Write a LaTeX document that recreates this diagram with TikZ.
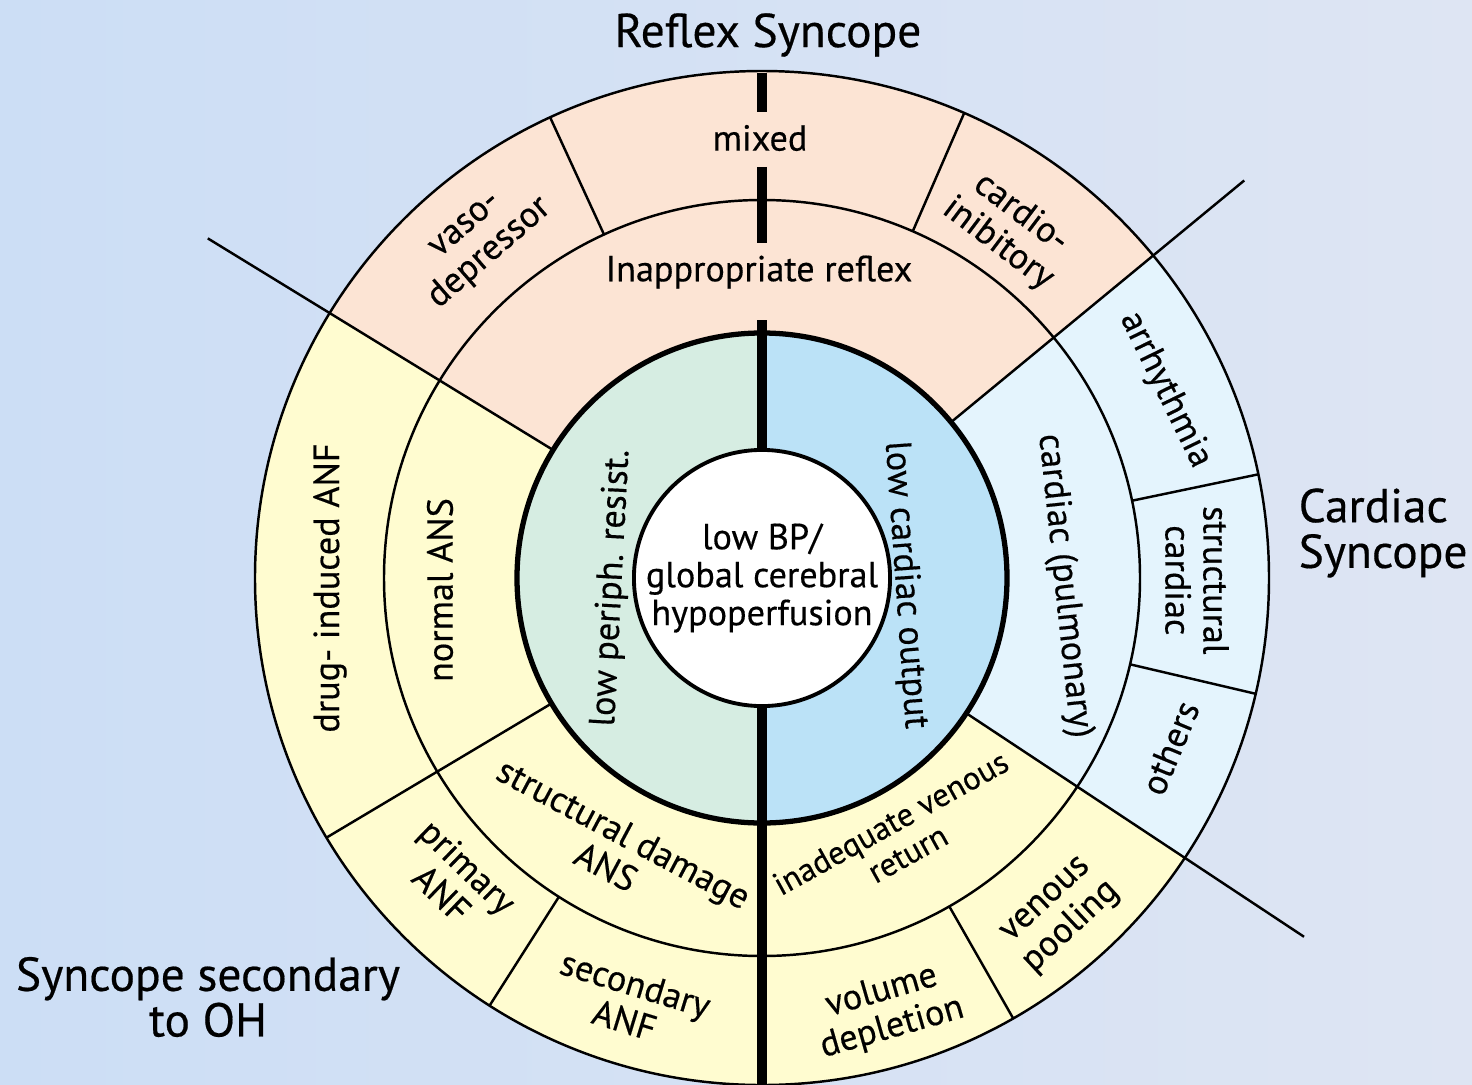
\documentclass[tikz,border=0pt]{standalone}
\usepackage{fontspec}
\setsansfont{PT Sans}[FakeBold=0.4]
\usepackage{tikz}
\usetikzlibrary{calc}

\definecolor{bgleft}{RGB}{204,222,245}
\definecolor{bgright}{RGB}{222,229,243}
\definecolor{reflexfill}{RGB}{252,228,212}
\definecolor{ohfill}{RGB}{255,252,208}
\definecolor{cardiacfill}{RGB}{228,244,253}
\definecolor{periphfill}{RGB}{214,237,226}
\definecolor{outputfill}{RGB}{187,226,247}

\begin{document}
\begin{tikzpicture}[
    x=0.1mm, y=0.1mm,
    font=\sffamily\fontsize{10.3}{10.8}\selectfont,
    ringline/.style={draw=black, line width=0.7pt},
    hubline/.style={draw=black, line width=1.5pt},
    axisline/.style={draw=black, line width=2.6pt},
    cell/.style={align=center, inner sep=0pt},
    region/.style={font=\sffamily\fontsize{13.5}{13}\selectfont, align=center, inner sep=0pt}
]

% Page and background.
\useasboundingbox (-762,-506) rectangle (710,578);
\clip (-762,-506) rectangle (710,578);
\shade[left color=bgleft, right color=bgright] (-762,-506) rectangle (710,578);

% Outer sectors, one colour per syncope group.
\fill[reflexfill] (0,0) -- (39.5:507) arc[start angle=39.5, end angle=148.5, radius=507] -- cycle;
\fill[ohfill] (0,0) -- (148.5:507) arc[start angle=148.5, end angle=326.5, radius=507] -- cycle;
\fill[cardiacfill] (0,0) -- (-33.5:507) arc[start angle=-33.5, end angle=39.5, radius=507] -- cycle;

% Inner ring halves.
\fill[periphfill] (0,245) arc[start angle=90, end angle=270, radius=245] -- cycle;
\fill[outputfill] (0,-245) arc[start angle=-90, end angle=90, radius=245] -- cycle;

% Rings.
\draw[ringline] (0,0) circle[radius=507];
\draw[ringline] (0,0) circle[radius=378];
\draw[hubline] (0,0) circle[radius=245];

% Group borders and cell dividers.
\draw[ringline] (148.5:245) -- (148.5:650);
\draw[ringline] (39.5:245) -- (39.5:625);
\draw[ringline] (-33.5:245) -- (-33.5:650);
\draw[ringline] (210.8:245) -- (210.8:507);
\draw[ringline] (114.7:378) -- (114.7:507);
\draw[ringline] (66.5:378) -- (66.5:507);
\draw[ringline] (11.8:378) -- (11.8:507);
\draw[ringline] (-13.2:378) -- (-13.2:507);
\draw[ringline] (237.5:378) -- (237.5:507);
\draw[ringline] (-60.3:378) -- (-60.3:507);

% Centre.
\node[circle, draw, line width=1.1pt, fill=white, minimum size=25mm, align=center, inner sep=0pt] (core) at (0,0)
    {low BP/\\global cerebral\\hypoperfusion};

\draw[axisline] (0,505) -- (0,466);
\draw[axisline] (0,411) -- (0,335);
\draw[axisline] (0,258) -- (core.north);
\draw[axisline] (core.south) -- (0,-506);

% Reflex syncope cells.
\node[cell] (mixed) at (-2,440) {mixed};
\node[cell] (inappr) at (-3,306) {Inappropriate reflex};
\node[cell, rotate=41] (vaso) at (130:440) {vaso-\\depressor};
\node[cell, rotate=-37] (cardioinib) at (54.7:428) {cardio-\\inibitory};

% Cardiac syncope cells.
\node[cell, rotate=-64] (arrhythmia) at (25:445) {arrhythmia};
\node[cell, rotate=-90] (structcard) at (-0.3:435) {structural\\cardiac};
\node[cell, rotate=67.4] (others) at (-22.6:442) {others};
\node[cell, rotate=-84] (pulmonary) at (302,-8) {cardiac (pulmonary)};
\node[cell, rotate=-86] (lowoutput) at (143,-7) {low cardiac output};

% Orthostatic cells.
\node[cell, rotate=87] (lowperiph) at (-150,-10) {low periph. resist.};
\node[cell, rotate=90] (normalans) at (-322,-12) {normal ANS};
\node[cell, rotate=90] (druganf) at (-432,-10) {drug- induced ANF};
\node[cell, rotate=-28] (damage) at (-147,-272) {structural damage\\ANS};
\node[cell, rotate=-44] (primaryanf) at (-307,-302) {primary\\ANF};
\node[cell, rotate=-17] (secondaryanf) at (-132,-424) {secondary\\ANF};
\node[cell, rotate=29, font=\sffamily\fontsize{9.3}{10}\selectfont] (venousret) at (137,-260) {inadequate venous\\return};
\node[cell, rotate=16] (volume) at (125,-432) {volume\\depletion};
\node[cell, rotate=43] (pooling) at (298,-337) {venous\\pooling};

% Group titles.
\node[region] (reflextitle) at (6,543) {Reflex Syncope};
\node[region, anchor=west, align=left] (cardiactitle) at (536,45) {Cardiac\\Syncope};
\node[region] (ohtitle) at (-554,-419) {Syncope secondary\\to OH};

\end{tikzpicture}
\end{document}
